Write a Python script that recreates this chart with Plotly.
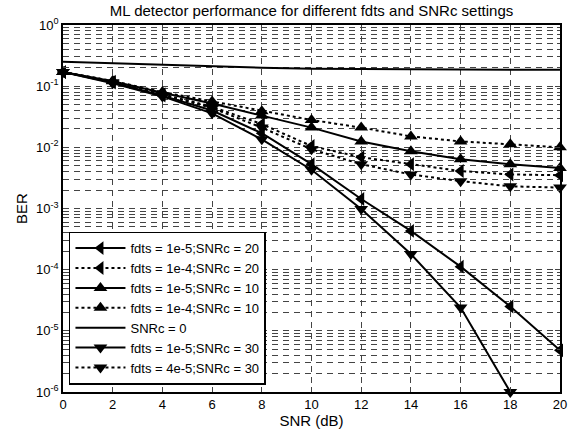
import plotly.graph_objects as go

snr_db = [0, 2, 4, 6, 8, 10, 12, 14, 16, 18, 20]

ber_fdts1e5_snrc20 = [0.17, 0.115, 0.070, 0.040, 0.017, 0.0053, 0.00143, 0.00043, 0.000112, 2.5e-5, 4.8e-6]
ber_fdts1e4_snrc20 = [0.17, 0.118, 0.074, 0.046, 0.024, 0.0105, 0.0069, 0.0053, 0.0041, 0.0036, 0.0035]
ber_fdts1e5_snrc10 = [0.17, 0.120, 0.078, 0.052, 0.033, 0.021, 0.0125, 0.0086, 0.0064, 0.0053, 0.0046]
ber_fdts1e4_snrc10 = [0.17, 0.122, 0.080, 0.056, 0.039, 0.028, 0.021, 0.0151, 0.0125, 0.0112, 0.0100]
ber_snrc0 = [0.25, 0.235, 0.222, 0.21, 0.20, 0.193, 0.19, 0.188, 0.187, 0.186, 0.185]
snr_db_30 = [0, 2, 4, 6, 8, 10, 12, 14, 16, 18]
ber_fdts1e5_snrc30 = [0.17, 0.112, 0.068, 0.036, 0.0135, 0.0043, 0.00098, 0.00018, 2.4e-5, 1e-6]
ber_fdts4e5_snrc30 = [0.17, 0.116, 0.072, 0.044, 0.021, 0.0093, 0.0053, 0.0036, 0.0028, 0.0023, 0.0022]

series = [
    ("fdts = 1e-5;SNRc = 20", snr_db, ber_fdts1e5_snrc20, "solid", "triangle-left"),
    ("fdts = 1e-4;SNRc = 20", snr_db, ber_fdts1e4_snrc20, "dot", "triangle-left"),
    ("fdts = 1e-5;SNRc = 10", snr_db, ber_fdts1e5_snrc10, "solid", "triangle-up"),
    ("fdts = 1e-4;SNRc = 10", snr_db, ber_fdts1e4_snrc10, "dot", "triangle-up"),
    ("SNRc = 0", snr_db, ber_snrc0, "solid", None),
    ("fdts = 1e-5;SNRc = 30", snr_db_30, ber_fdts1e5_snrc30, "solid", "triangle-down"),
    ("fdts = 4e-5;SNRc = 30", snr_db, ber_fdts4e5_snrc30, "dot", "triangle-down"),
]

FONT = "Liberation Sans, Arial, Helvetica, sans-serif"

fig = go.Figure()
for name, xs, ys, dash, sym in series:
    fig.add_trace(go.Scatter(
        x=xs, y=ys, name=name,
        mode="lines+markers" if sym else "lines",
        line=dict(color="black", width=2, dash=dash),
        marker=dict(symbol=sym or "circle", size=12, color="black",
                    line=dict(width=0)),
        cliponaxis=False,
    ))

minor_vals = [k * 10.0 ** e for e in range(-6, 0) for k in range(2, 10)]
major_vals = [10.0 ** e for e in range(-6, 1)]
major_text = ["10<sup>%d</sup>" % e for e in range(-6, 1)]

grid_common = dict(gridcolor="#444", gridwidth=1, griddash="6px,5px")

fig.update_layout(
    width=576, height=433,
    margin=dict(l=63, r=9, t=25, b=39),
    paper_bgcolor="white", plot_bgcolor="white",
    font=dict(family=FONT, size=13, color="black"),
    title=dict(text="ML detector performance for different fdts and SNRc settings",
               x=0.5, xref="paper", xanchor="center", y=0.975, yanchor="middle",
               font=dict(size=15)),
    showlegend=True,
    legend=dict(x=0.012, y=0.02, xanchor="left", yanchor="bottom",
                bgcolor="white", bordercolor="black", borderwidth=1.5,
                font=dict(size=13), itemwidth=50, tracegroupgap=0),
)

fig.update_xaxes(
    range=[0, 20], tickvals=snr_db, ticks="inside", ticklen=5,
    showline=True, linecolor="black", linewidth=1.5, mirror="ticks",
    showgrid=True, zeroline=False,
    title=dict(text="SNR (dB)", standoff=1, font=dict(size=15)),
    tickfont=dict(size=13),
    **grid_common,
)
fig.update_yaxes(
    type="log", range=[-6, 0], tickvals=major_vals, ticktext=major_text,
    ticks="inside", ticklen=5,
    showline=True, linecolor="black", linewidth=1.5, mirror="ticks",
    showgrid=True, zeroline=False,
    title=dict(text="BER", standoff=5, font=dict(size=15)),
    tickfont=dict(size=13),
    minor=dict(tickvals=minor_vals, ticks="inside", ticklen=3, showgrid=True,
               gridcolor="#444", gridwidth=1, griddash="6px,5px"),
    **grid_common,
)

fig.write_html("out.html")
